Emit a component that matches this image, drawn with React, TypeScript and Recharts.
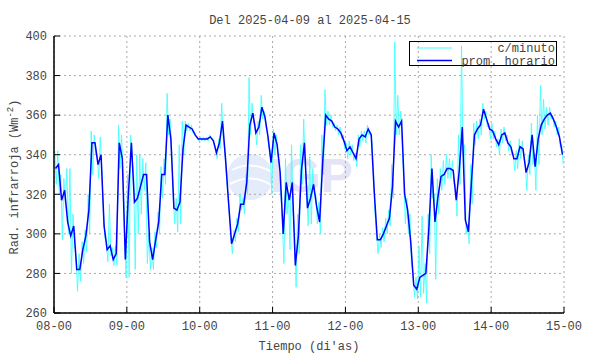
import { LineChart, Line, XAxis, YAxis, CartesianGrid, Legend } from "recharts";

const FONT = "'Liberation Mono', 'DejaVu Sans Mono', monospace";
const TEXT = "#444";

// eje x: dias (0 = 08-00)
const DAY_TICKS = [0, 1, 2, 3, 4, 5, 6, 7];
const DAY_LABELS = ["08-00", "09-00", "10-00", "11-00", "12-00", "13-00", "14-00", "15-00"];
const Y_TICKS = [260, 280, 300, 320, 340, 360, 380, 400];

// promedio horario (Wm-2), una lista por dia
const prom08 = [333, 335, 317, 322, 306, 299, 304, 282, 282, 292, 299, 312, 346, 346, 335, 340, 304, 292, 294, 287, 290, 346, 338, 287];
const prom09 = [320, 346, 316, 318, 324, 330, 330, 296, 287, 297, 306, 330, 330, 360, 348, 313, 312, 316, 343, 355, 354, 353, 350, 348];
const prom10 = [348, 348, 348, 349, 347, 341, 346, 357, 338, 316, 295, 300, 305, 315, 315, 326, 355, 361, 351, 354, 364, 359, 349, 336];
const prom11 = [351, 345, 331, 300, 326, 317, 326, 284, 299, 332, 346, 313, 318, 325, 314, 306, 336, 360, 358, 357, 354, 353, 351, 347];
const prom12 = [342, 344, 341, 338, 348, 350, 349, 353, 350, 321, 297, 297, 300, 304, 308, 324, 357, 354, 357, 320, 312, 296, 274, 272];
const prom13 = [278, 279, 280, 303, 333, 306, 319, 329, 330, 333, 333, 332, 317, 332, 354, 307, 301, 326, 350, 353, 355, 363, 358, 353];
const prom14 = [352, 348, 345, 350, 351, 346, 344, 338, 338, 344, 343, 331, 336, 350, 334, 348, 355, 358, 360, 361, 358, 354, 349, 340];

// datos por minuto: maximo y minimo de cada hora
const alto08 = [342, 342, 330, 328, 333, 333, 310, 288, 290, 296, 302, 320, 352, 350, 340, 349, 312, 296, 315, 293, 294, 355, 350, 300];
const bajo08 = [325, 320, 297, 315, 300, 280, 296, 271, 276, 285, 291, 300, 330, 340, 328, 332, 298, 286, 289, 284, 284, 333, 330, 278];
const alto09 = [330, 350, 330, 340, 340, 338, 336, 300, 293, 301, 311, 334, 338, 371, 358, 320, 318, 345, 357, 357, 356, 355, 351, 349];
const bajo09 = [278, 338, 282, 300, 310, 322, 285, 282, 282, 293, 300, 318, 325, 350, 342, 305, 301, 305, 340, 352, 352, 351, 349, 347];
const alto10 = [349, 349, 349, 350, 348, 343, 348, 366, 342, 320, 298, 302, 308, 320, 318, 330, 379, 366, 356, 357, 370, 362, 352, 342];
const bajo10 = [347, 347, 347, 348, 346, 338, 343, 348, 330, 310, 290, 296, 301, 312, 310, 320, 350, 356, 345, 350, 358, 354, 344, 320];
const alto11 = [353, 350, 335, 305, 338, 320, 345, 300, 310, 345, 358, 320, 339, 333, 320, 316, 350, 373, 362, 360, 356, 355, 354, 350];
const bajo11 = [340, 340, 320, 285, 310, 292, 312, 273, 290, 325, 335, 304, 305, 320, 305, 300, 330, 355, 355, 354, 352, 350, 348, 343];
const alto12 = [346, 347, 345, 341, 350, 352, 352, 355, 352, 330, 300, 300, 303, 308, 312, 335, 397, 370, 362, 325, 318, 310, 280, 278];
const bajo12 = [338, 340, 337, 334, 344, 347, 346, 350, 346, 310, 290, 293, 296, 300, 304, 318, 350, 350, 345, 305, 300, 285, 268, 267];
const alto13 = [294, 309, 285, 310, 340, 320, 328, 333, 337, 340, 338, 337, 325, 350, 395, 345, 305, 335, 356, 357, 358, 366, 362, 356];
const bajo13 = [268, 270, 265, 290, 318, 277, 310, 322, 325, 328, 328, 325, 309, 325, 340, 300, 295, 315, 345, 348, 350, 358, 354, 348];
const alto14 = [356, 352, 348, 353, 354, 350, 347, 341, 342, 348, 347, 336, 340, 356, 340, 360, 375, 368, 364, 364, 360, 357, 354, 345];
const bajo14 = [348, 344, 340, 346, 347, 342, 340, 332, 333, 338, 338, 322, 330, 335, 322, 335, 350, 353, 355, 358, 354, 350, 344, 335];

const horario = [prom08, prom09, prom10, prom11, prom12, prom13, prom14];
const altos = [alto08, alto09, alto10, alto11, alto12, alto13, alto14];
const bajos = [bajo08, bajo09, bajo10, bajo11, bajo12, bajo13, bajo14];

// promedio horario centrado en la media hora
const hourlyData = horario.flatMap((day, d) =>
  day.map((v, h) => ({ t: d + (h + 0.5) / 24, v }))
);

const minuteData = altos.flatMap((day, d) =>
  day.flatMap((hi, h) => [
    { t: d + (h + 0.25) / 24, v: hi },
    { t: d + (h + 0.75) / 24, v: bajos[d][h] },
  ])
);

function LegendBox({ payload }: any) {
  const items = payload || [];
  return (
    <svg width={149} height={26} style={{ display: "block" }}>
      <rect x={0.5} y={0.5} width={147} height={24} fill="none" stroke="#000" />
      {items.map((it: any, i: number) => (
        <g key={it.value}>
          <line
            x1={8}
            x2={43}
            y1={7 + i * 12.5}
            y2={7 + i * 12.5}
            stroke={it.color}
            strokeWidth={i === 0 ? 1 : 1.5}
          />
          <text
            x={146}
            y={11 + i * 12.5}
            textAnchor="end"
            fontFamily={FONT}
            fontSize={12}
            fill={TEXT}
          >
            {it.value}
          </text>
        </g>
      ))}
    </svg>
  );
}

export default function App() {
  const tickStyle = { fill: TEXT, fontSize: 12, fontFamily: FONT };
  return (
    <div style={{ position: "absolute", left: 0, top: 0, width: 590, height: 354, background: "#fff" }}>
      <svg width={590} height={354} style={{ position: "absolute", left: 0, top: 0 }}>
        {/* marca de agua */}
        <circle cx={250} cy={177} r={23} fill="#e4ebfb" />
        <path d="M232 170 Q250 160 272 172" stroke="#fff" strokeWidth={2} fill="none" />
        <path d="M230 184 Q252 172 273 186" stroke="#fff" strokeWidth={2} fill="none" />
        <text x={270} y={192} fontFamily="'Liberation Sans', Arial, sans-serif" fontWeight="bold" fontSize={48} fill="#e4e4f6">
          IGP
        </text>
        <text x={310} y={24} textAnchor="middle" fontFamily={FONT} fontSize={12} fill={TEXT}>
          Del 2025-04-09 al 2025-04-15
        </text>
        <text x={309} y={350} textAnchor="middle" fontFamily={FONT} fontSize={12} fill={TEXT}>
          Tiempo (di'as)
        </text>
        <text
          transform="translate(18,177) rotate(-90)"
          textAnchor="middle"
          fontFamily={FONT}
          fontSize={12}
          fill={TEXT}
        >
          Rad. infrarroja (Wm
          <tspan dy={-5} fontSize={9}>-2</tspan>
          <tspan dy={5}>)</tspan>
        </text>
      </svg>
      <LineChart
        width={590}
        height={354}
        margin={{ top: 36, right: 26, left: 0, bottom: 0 }}
        style={{ position: "absolute", left: 0, top: 0 }}
      >
        <CartesianGrid stroke="#a8a8a8" strokeDasharray="2 3" />
        <XAxis
          xAxisId={0}
          type="number"
          dataKey="t"
          domain={[0, 7]}
          ticks={DAY_TICKS}
          interval={0}
          tickFormatter={(v: number) => DAY_LABELS[v]}
          height={41}
          tickSize={-6}
          tickMargin={14}
          axisLine={{ stroke: "#000", strokeWidth: 1.5 }}
          tickLine={{ stroke: "#000" }}
          tick={tickStyle}
          allowDataOverflow
        />
        <XAxis
          xAxisId="top"
          orientation="top"
          type="number"
          domain={[0, 7]}
          ticks={DAY_TICKS}
          interval={0}
          height={0}
          tickSize={-6}
          tick={false}
          axisLine={{ stroke: "#000", strokeWidth: 1.5 }}
          tickLine={{ stroke: "#000" }}
        />
        <YAxis
          yAxisId={0}
          type="number"
          domain={[260, 400]}
          ticks={Y_TICKS}
          interval={0}
          width={54}
          tickSize={-6}
          tickMargin={13}
          axisLine={{ stroke: "#000", strokeWidth: 1.5 }}
          tickLine={{ stroke: "#000" }}
          tick={tickStyle}
          allowDataOverflow
        />
        <YAxis
          yAxisId="right"
          orientation="right"
          type="number"
          domain={[260, 400]}
          ticks={Y_TICKS}
          interval={0}
          width={0}
          tickSize={-6}
          tick={false}
          axisLine={{ stroke: "#000", strokeWidth: 1.5 }}
          tickLine={{ stroke: "#000" }}
        />
        <Legend
          layout="vertical"
          align="center"
          verticalAlign="middle"
          content={LegendBox}
          wrapperStyle={{ position: "absolute", left: 409, top: 41, width: 149, height: 26 }}
        />
        <Line
          data={minuteData}
          dataKey="v"
          name="c/minuto"
          type="linear"
          stroke="#44ffff"
          strokeWidth={0.9}
          dot={false}
          isAnimationActive={false}
        />
        <Line
          data={hourlyData}
          dataKey="v"
          name="prom. horario"
          type="linear"
          stroke="#0000ff"
          strokeWidth={1.5}
          dot={false}
          isAnimationActive={false}
        />
      </LineChart>
    </div>
  );
}
